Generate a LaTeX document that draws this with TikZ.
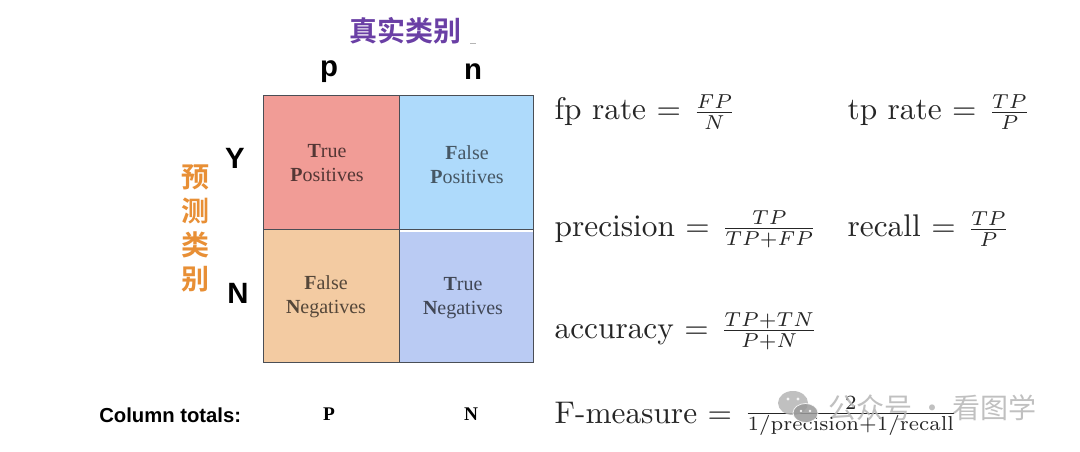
\documentclass[tikz,border=0pt]{standalone}
\usepackage{fontspec}
\usepackage{amsmath}
\usepackage{graphicx}
\newfontfamily\cjk{Noto Sans CJK SC}[BoldFont={* Bold}]
\newfontfamily\hel{Liberation Sans}
\newfontfamily\tim{Liberation Serif}
\definecolor{cellTP}{HTML}{F19C96}
\definecolor{cellFP}{HTML}{AEDAFB}
\definecolor{cellFN}{HTML}{F3CBA2}
\definecolor{cellTN}{HTML}{BACBF3}
\definecolor{edgeC}{HTML}{4A4E55}
\definecolor{purpleT}{HTML}{6A3FA5}
\definecolor{orangeT}{HTML}{E88F35}
\definecolor{markC}{HTML}{B5B5B5}
\newlength{\pxu}\setlength{\pxu}{0.75pt}
\newcommand{\myfrac}[2]{\mskip 2mu\vcenter{\hbox{\scalebox{0.92}{$\frac{#1}{#2}$}}}}
\tikzset{
  cell/.style={draw=edgeC,line width=1pt,anchor=north west,inner sep=0pt},
  celltext/.style={font=\tim\fontsize{15}{18}\selectfont,align=center,inner sep=0pt},
  axislab/.style={font=\hel\bfseries\fontsize{22}{22}\selectfont,text=black,inner sep=0pt},
  totallab/.style={font=\tim\bfseries\fontsize{14.5}{14.5}\selectfont,text=black,inner sep=0pt},
  formula/.style={anchor=west,inner sep=0pt,font=\fontsize{10}{12}\selectfont,text=black!85,scale=2.35,transform shape},
}
\begin{document}
\begin{tikzpicture}[x=0.75pt,y=-0.75pt]
\useasboundingbox (0,0) rectangle (1080,452);
\fill[white] (0,0) rectangle (1080,452);
% matrix
\node[cell,fill=cellTP,minimum width=136\pxu,minimum height=134\pxu] (tp) at (263,95) {};
\node[cell,fill=cellFP,minimum width=134\pxu,minimum height=134\pxu] (fp) at (399,95) {};
\node[cell,fill=cellFN,minimum width=136\pxu,minimum height=133\pxu] (fn) at (263,229) {};
\node[cell,fill=cellTN,minimum width=134\pxu,minimum height=133\pxu] (tn) at (399,229) {};
\fill[white] (400,230) rectangle (532.5,232);
\node[celltext,text=cellTP!35!black] (tpt) at (327,163) {\textbf{T}rue\\\textbf{P}ositives};
\node[celltext,text=cellFP!40!black] (fpt) at (467,165) {\textbf{F}alse\\\textbf{P}ositives};
\node[celltext,text=cellFN!35!black] (fnt) at (326,297) {\textbf{F}alse\\\textbf{N}egatives};
\node[celltext,text=cellTN!35!black] (tnt) at (463,298) {\textbf{T}rue\\\textbf{N}egatives};
% headers
\node[font=\cjk\bfseries\fontsize{21}{21}\selectfont,text=purpleT,inner sep=0pt] (title) at (405,31) {真实类别};
\fill[markC] (470,43) rectangle (476,44.5);
\node[font=\cjk\bfseries\fontsize{21}{25.5}\selectfont,text=orangeT,align=center,inner sep=0pt] (side) at (195,228) {预\\测\\类\\别};
\node[axislab] (p) at (329,72) {p};
\node[axislab] (n) at (473,72) {n};
\node[axislab] (Y) at (235,158) {Y};
\node[axislab] (N) at (238,293) {N};
\node[font=\hel\bfseries\fontsize{15.2}{15.2}\selectfont,anchor=west,inner sep=0pt] (ct) at (99,415) {Column totals:};
\node[totallab] (P2) at (329,414) {P};
\node[totallab] (N2) at (471,414) {N};
% formulas
\node[formula] (f1) at (554,112) {fp rate $=\myfrac{FP}{N}$};
\node[formula] (f2) at (847,112) {tp rate $=\myfrac{TP}{P}$};
\node[formula] (f3) at (554,229) {precision $=\myfrac{TP}{TP+FP}$};
\node[formula] (f4) at (847,229) {recall $=\myfrac{TP}{P}$};
\node[formula] (f5) at (554,331) {accuracy $=\myfrac{TP+TN}{P+N}$};
\node[formula] (f6) at (554,416) {F-measure $=\myfrac{2}{1/\text{precision}+1/\text{recall}}$};
% watermark
\begin{scope}[opacity=0.85]
\fill[markC] (793,403) ellipse (15 and 12);
\fill[markC!85!black,draw=white,line width=0.6pt] (805.5,413) ellipse (12.5 and 9.5);
\fill[white] (788,399) circle (1.7) (798,399) circle (1.7) (801,411) circle (1.3) (810,411) circle (1.3);
\node[font=\cjk\fontsize{21}{21}\selectfont,text=markC,anchor=west,inner sep=0pt] (wm) at (828,408) {公众号 · 看图学};
\end{scope}
\end{tikzpicture}
\end{document}
